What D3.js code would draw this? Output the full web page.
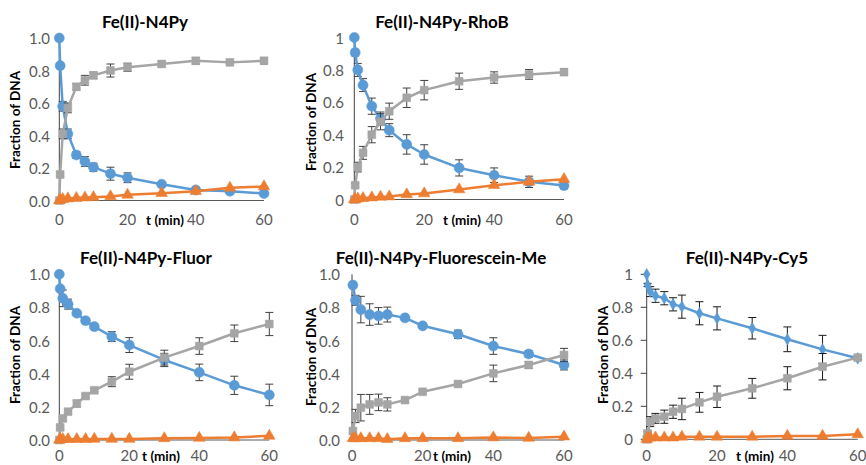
<!DOCTYPE html>
<html><head><meta charset="utf-8">
<script src="https://cdn.jsdelivr.net/npm/d3@7"></script>
<style>
body{margin:0;background:#fff;}
svg{display:block;font-family:Lato,"Open Sans",sans-serif;}
</style></head>
<body><svg id="c" width="866" height="465"></svg>
<script>
// ---- data ----
const times = [0, 0.25, 1, 2.5, 5, 7.5, 10, 15, 20, 30, 40, 50, 60];
const xTicks = [0, 20, 40, 60];
const yTicks = [0, 0.2, 0.4, 0.6, 0.8, 1.0];
const titles = ["Fe(II)-N4Py", "Fe(II)-N4Py-RhoB", "Fe(II)-N4Py-Fluor", "Fe(II)-N4Py-Fluorescein-Me", "Fe(II)-N4Py-Cy5"];

const p1Blue    = [1.0, 0.83, 0.58, 0.41, 0.28, 0.24, 0.205, 0.165, 0.14, 0.10, 0.065, 0.057, 0.043];
const p1BlueErr = [0, 0.01, 0.03, 0.03, 0.02, 0.03, 0.025, 0.04, 0.03, 0.01, 0.01, 0.01, 0.01];
const p1Gray    = [0, 0.16, 0.41, 0.57, 0.70, 0.74, 0.77, 0.80, 0.82, 0.84, 0.86, 0.85, 0.86];
const p1GrayErr = [0, 0.01, 0.03, 0.03, 0.02, 0.03, 0.02, 0.04, 0.025, 0.015, 0.02, 0.01, 0.02];
const p1Orange  = [0, 0.005, 0.008, 0.012, 0.015, 0.018, 0.02, 0.025, 0.035, 0.045, 0.057, 0.078, 0.086];

const p2Blue    = [1.0, 0.907, 0.80, 0.706, 0.576, 0.50, 0.428, 0.34, 0.278, 0.195, 0.15, 0.109, 0.086];
const p2BlueErr = [0, 0.02, 0.04, 0.04, 0.05, 0.04, 0.04, 0.06, 0.06, 0.05, 0.045, 0.035, 0.02];
const p2Gray    = [0, 0.088, 0.20, 0.288, 0.40, 0.48, 0.545, 0.628, 0.675, 0.73, 0.753, 0.772, 0.786];
const p2GrayErr = [0, 0.01, 0.03, 0.04, 0.05, 0.05, 0.05, 0.06, 0.06, 0.05, 0.035, 0.03, 0.02];
const p2Orange  = [0, 0, 0.005, 0.008, 0.012, 0.016, 0.018, 0.031, 0.037, 0.062, 0.088, 0.109, 0.125];

const p3Blue    = [1.0, 0.913, 0.855, 0.82, 0.765, 0.72, 0.684, 0.624, 0.573, 0.483, 0.408, 0.33, 0.272];
const p3BlueErr = [0, 0.01, 0.05, 0.03, 0.01, 0.01, 0.01, 0.03, 0.045, 0.04, 0.05, 0.055, 0.065];
const p3Gray    = [0, 0.076, 0.13, 0.171, 0.22, 0.265, 0.30, 0.352, 0.412, 0.497, 0.567, 0.644, 0.70];
const p3GrayErr = [0, 0.01, 0.01, 0.01, 0.02, 0.01, 0.01, 0.03, 0.045, 0.045, 0.05, 0.05, 0.07];
const p3Orange  = [0, 0.005, 0.005, 0.005, 0.005, 0.005, 0.006, 0.006, 0.006, 0.01, 0.012, 0.015, 0.025];

const p4Blue    = [null, 0.935, 0.843, 0.787, 0.757, 0.749, 0.757, 0.737, 0.689, 0.638, 0.567, 0.519, 0.453];
const p4BlueErr = [null, 0, 0.03, 0.08, 0.065, 0.05, 0.045, 0.01, 0.01, 0.025, 0.05, 0.02, 0.03];
const p4Gray    = [null, 0.054, 0.145, 0.195, 0.215, 0.227, 0.215, 0.241, 0.291, 0.338, 0.402, 0.453, 0.513];
const p4GrayErr = [null, 0, 0.04, 0.08, 0.06, 0.05, 0.04, 0.01, 0.01, 0.01, 0.05, 0.02, 0.04];
const p4Orange  = [null, 0.01, 0.01, 0.01, 0.01, 0.01, 0.005, 0.01, 0.01, 0.01, 0.015, 0.012, 0.02];

const p5Blue    = [1.0, 0.935, 0.895, 0.87, 0.855, 0.818, 0.804, 0.764, 0.733, 0.673, 0.606, 0.545, 0.491];
const p5BlueErr = [0, 0.01, 0.03, 0.04, 0.04, 0.04, 0.07, 0.07, 0.07, 0.065, 0.075, 0.085, 0.01];
const p5Gray    = [0, 0.036, 0.107, 0.127, 0.137, 0.167, 0.184, 0.224, 0.258, 0.309, 0.37, 0.44, 0.495];
const p5GrayErr = [0, 0.01, 0.03, 0.03, 0.04, 0.04, 0.065, 0.06, 0.065, 0.06, 0.07, 0.08, 0.01];
const p5Orange  = [0, 0.01, 0.01, 0.01, 0.01, 0.01, 0.015, 0.015, 0.015, 0.015, 0.02, 0.02, 0.03];

// ---- layout (positions & styles) ----
const panels = [
  {blue:p1Blue, blueErr:p1BlueErr, gray:p1Gray, grayErr:p1GrayErr, orange:p1Orange,
   x0:59.3, x1:264, yT:38, yB:200.5, yLblEnd:50, xLblY:219, tx:145, ty:21, xtx:165, ytx:15, yty:120, fmt:".1f", diamond:false, ticks:false},
  {blue:p2Blue, blueErr:p2BlueErr, gray:p2Gray, grayErr:p2GrayErr, orange:p2Orange,
   x0:354.3, x1:564, yT:37.5, yB:199.5, yLblEnd:344, xLblY:219, tx:442, ty:21, xtx:462, ytx:311, yty:122, fmt:"~g", diamond:false, ticks:false},
  {blue:p3Blue, blueErr:p3BlueErr, gray:p3Gray, grayErr:p3GrayErr, orange:p3Orange,
   x0:59.3, x1:269.3, yT:274.3, yB:440, yLblEnd:50, xLblY:455, tx:146, ty:257, xtx:161, ytx:15, yty:355, fmt:".1f", diamond:false, ticks:false},
  {blue:p4Blue, blueErr:p4BlueErr, gray:p4Gray, grayErr:p4GrayErr, orange:p4Orange,
   x0:352, x1:564, yT:274.3, yB:440, yLblEnd:340, xLblY:455, tx:441, ty:257, xtx:452, ytx:311, yty:357, fmt:".1f", diamond:false, ticks:false},
  {blue:p5Blue, blueErr:p5BlueErr, gray:p5Gray, grayErr:p5GrayErr, orange:p5Orange,
   x0:646.7, x1:857.7, yT:274.3, yB:439.3, yLblEnd:633, xLblY:455, tx:747, ty:257, xtx:755, ytx:603, yty:355, fmt:"~g", diamond:true, ticks:true}
];
const C_BLUE = "#5B9BD5", C_GRAY = "#A5A5A5", C_ORANGE = "#ED7D31";

const svg = d3.select("#c");

panels.forEach((p, i) => {
  const g = svg.append("g");
  const x = d3.scaleLinear().domain([0, 60]).range([p.x0, p.x1]);
  const y = d3.scaleLinear().domain([0, 1]).range([p.yB, p.yT]);

  // title
  g.append("text").attr("x", p.tx).attr("y", p.ty).attr("text-anchor", "middle")
    .attr("dominant-baseline", "central").attr("font-weight", "bold").attr("font-size", 17)
    .attr("fill", "#000").text(titles[i]);

  // y axis labels
  const fmt = d3.format(p.fmt);
  g.selectAll(".yl").data(yTicks).enter().append("text")
    .attr("x", p.yLblEnd).attr("y", d => y(d)).attr("text-anchor", "end")
    .attr("dominant-baseline", "central").attr("font-size", 15).attr("fill", "#595959")
    .text(d => fmt(d));
  // x axis labels
  g.selectAll(".xl").data(xTicks).enter().append("text")
    .attr("x", d => x(d)).attr("y", p.xLblY).attr("text-anchor", "middle")
    .attr("dominant-baseline", "central").attr("font-size", 15).attr("fill", "#595959")
    .text(d => d);

  // axis titles
  g.append("text").attr("transform", `translate(${p.ytx},${p.yty}) rotate(-90)`)
    .attr("text-anchor", "middle").attr("dominant-baseline", "central")
    .attr("font-weight", "bold").attr("font-size", 13.5).attr("fill", "#000").text("Fraction of DNA");
  g.append("text").attr("x", p.xtx).attr("y", p.xLblY + 1).attr("text-anchor", "middle")
    .attr("dominant-baseline", "central").attr("font-weight", "bold").attr("font-size", 13.5)
    .attr("fill", "#000").text("t (min)");

  // axis lines
  g.append("line").attr("x1", x(0)).attr("x2", x(60)).attr("y1", y(0)).attr("y2", y(0))
    .attr("stroke", "#595959").attr("stroke-width", 1);
  g.append("line").attr("x1", x(0)).attr("x2", x(0)).attr("y1", y(0)).attr("y2", y(1))
    .attr("stroke", "#404040").attr("stroke-width", 1);
  if (p.ticks) {
    g.selectAll(".tk").data(yTicks).enter().append("line")
      .attr("x1", x(0) - 6).attr("x2", x(0)).attr("y1", d => y(d)).attr("y2", d => y(d))
      .attr("stroke", "#404040").attr("stroke-width", 1);
  }

  const series = [
    {vals: p.blue, err: p.blueErr, color: C_BLUE, shape: p.diamond ? "diamond" : "circle"},
    {vals: p.gray, err: p.grayErr, color: C_GRAY, shape: "square"},
    {vals: p.orange, err: null, color: C_ORANGE, shape: "triangle"}
  ];
  const errColor = p.ticks ? "#1a1a1a" : "#404040";

  series.forEach(s => {
    const pts = times.map((t, k) => ({t, v: s.vals[k], e: s.err ? s.err[k] : 0})).filter(d => d.v != null);
    // error bars
    const eb = pts.filter(d => d.e > 0.005);
    const eg = g.append("g").attr("stroke", errColor).attr("stroke-width", 1);
    eb.forEach(d => {
      const cx = x(d.t), yl = y(d.v - d.e), yh = y(d.v + d.e);
      eg.append("line").attr("x1", cx).attr("x2", cx).attr("y1", yl).attr("y2", yh);
      eg.append("line").attr("x1", cx - 4).attr("x2", cx + 4).attr("y1", yl).attr("y2", yl);
      eg.append("line").attr("x1", cx - 4).attr("x2", cx + 4).attr("y1", yh).attr("y2", yh);
    });
    // line
    const line = d3.line().x(d => x(d.t)).y(d => y(d.v));
    g.append("path").datum(pts).attr("d", line).attr("fill", "none")
      .attr("stroke", s.color).attr("stroke-width", 2.5).attr("stroke-linejoin", "round");
    // markers
    let sym, size;
    if (s.shape === "circle") { sym = d3.symbolCircle; size = 80; }
    else if (s.shape === "square") { sym = d3.symbolSquare; size = 62; }
    else if (s.shape === "triangle") { sym = d3.symbolTriangle; size = 58; }
    else { sym = d3.symbolDiamond; size = 40; }
    const gen = d3.symbol().type(sym).size(size);
    g.selectAll(null).data(pts).enter().append("path")
      .attr("d", gen).attr("transform", d => `translate(${x(d.t)},${y(d.v)})`)
      .attr("fill", s.color).attr("stroke", s.color).attr("stroke-width", 0.5);
  });
});
</script></body></html>
